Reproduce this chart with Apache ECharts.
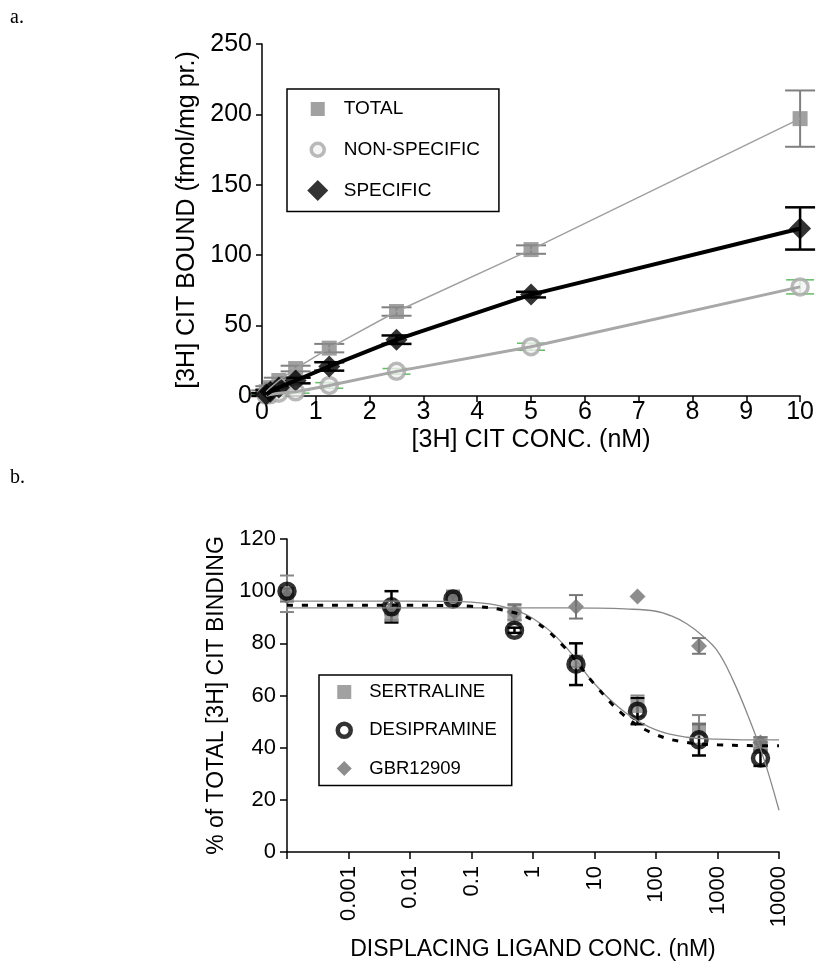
<!DOCTYPE html>
<html>
<head>
<meta charset="utf-8">
<script src="https://cdn.jsdelivr.net/npm/echarts@6/dist/echarts.min.js"></script>
<style>
  html, body { margin: 0; padding: 0; background: #fff; }
  #chart { width: 817px; height: 963px; }
</style>
</head>
<body>
<div id="chart"></div>
<script>
// panel a: saturation binding
const concA = [0.078, 0.156, 0.3125, 0.625, 1.25, 2.5, 5, 10]
const total = [3, 6, 11, 19.5, 34, 60, 104, 197]
const totalErr = [1, 1, 2, 2, 3, 3, 3, 20]
const nonSpecific = [0.5, 1, 2, 3, 7.5, 17.5, 35, 77.5]
const nonSpecificErr = [0.5, 0.5, 1, 1, 2, 2, 2.5, 5]
const specific = [1, 3, 6, 11, 21, 40, 72, 119]
const specificErr = [1, 1, 1, 2, 3, 3, 2, 15]

// panel b: displacement
const concB = [0.0001, 0.005, 0.05, 0.5, 5, 50, 500, 5000]
const sertraline = [99, 91, 98, 91, 73, 56, 47, 41]
const sertralineErr = [7, 2, 2, 3.5, 2, 4, 5.5, 3]
const desipramine = [100, 94, 97, 85, 72, 54, 43, 36]
const desipramineErr = [1, 6, 1, 1, 8, 5, 6, 3]
const gbr = [98, 93, 97, 92, 94, 98, 79, 42]
const gbrErr = [2, 2, 1, 3, 4.5, 0, 3, 2]

// fitted curves, every half decade
const fitX = [0.0001, 0.000316, 0.001, 0.00316, 0.01, 0.0316, 0.1, 0.316, 1, 3.16, 10, 31.6, 100, 316, 1000, 3162, 10000]
const sertralineFit = [96.2, 96.2, 96.2, 96.2, 96.2, 96.1, 95.8, 94.2, 89.5, 79.5, 64.5, 53.5, 46.8, 44, 43.3, 43, 43]
const desipramineFit = [94.6, 94.6, 94.6, 94.6, 94.6, 94.5, 94.2, 92.8, 88.8, 78.8, 64.3, 52, 45, 42, 41.1, 40.8, 40.7]
const gbrFitX = [0.0001, 0.001, 0.01, 0.1, 1, 10, 31.6, 100, 178, 316, 562, 1000, 1778, 3162, 5623, 10000]
const gbrFit = [93.6, 93.6, 93.6, 93.6, 93.6, 93.5, 93.2, 92.3, 90.5, 87.5, 83, 77, 66, 52, 36, 16]

const yTicksA = [0, 50, 100, 150, 200, 250]
const yTicksB = [0, 20, 40, 60, 80, 100, 120]

const SANS = 'Liberation Sans, Arial, Helvetica, sans-serif'

const pairs = (xs, ys) => xs.map((x, i) => [x, ys[i]])
const bars = (xs, ys, es) => xs.map((x, i) => [x, ys[i] - es[i], ys[i] + es[i]]).filter(d => d[2] > d[1])

function errorBars (data, axis, color, width, half) {
    return {
        type: 'custom',
        xAxisIndex: axis,
        yAxisIndex: axis,
        silent: true,
        data: data,
        encode: { x: 0, y: [1, 2] },
        renderItem (params, api) {
            let lo = api.coord([api.value(0), api.value(1)])
            let hi = api.coord([api.value(0), api.value(2)])
            let style = { stroke: color, lineWidth: width }
            return {
                type: 'group',
                children: [
                    { type: 'line', shape: { x1: lo[0], y1: lo[1], x2: hi[0], y2: hi[1] }, style },
                    { type: 'line', shape: { x1: lo[0] - half, y1: lo[1], x2: lo[0] + half, y2: lo[1] }, style },
                    { type: 'line', shape: { x1: hi[0] - half, y1: hi[1], x2: hi[0] + half, y2: hi[1] }, style }
                ]
            }
        }
    }
}

function line (data, axis, color, width, type, smooth) {
    return {
        type: 'line', xAxisIndex: axis, yAxisIndex: axis, data: data,
        showSymbol: false, smooth: smooth || false, silent: true,
        lineStyle: { color: color, width: width, type: type || 'solid' }
    }
}

function points (name, data, axis, symbol, size, itemStyle) {
    return {
        name: name, type: 'scatter', xAxisIndex: axis, yAxisIndex: axis, data: data,
        symbol: symbol, symbolSize: size, itemStyle: itemStyle, silent: true
    }
}

// legend icons: the leading moves pad the box so each shape keeps its own size
const iconSquare = (b, s) => `path://M0,0M${b},${b}M${(b - s) / 2},${(b - s) / 2}h${s}v${s}h${-s}Z`
const iconDiamond = (b, s) => `path://M0,0M${b},${b}M${b / 2},${(b - s) / 2}l${s / 2},${s / 2}l${-s / 2},${s / 2}l${-s / 2},${-s / 2}Z`
const iconCircle = (b, r) => `path://M0,0M${b},${b}M${b / 2 + r},${b / 2}A${r},${r},0,1,1,${b / 2 - r},${b / 2}A${r},${r},0,1,1,${b / 2 + r},${b / 2}Z`

const axisBase = {
    axisLine: { show: true, lineStyle: { color: '#000', width: 1.5 } },
    axisTick: { show: true, length: 6, lineStyle: { color: '#000', width: 1.5 } },
    splitLine: { show: false },
    nameLocation: 'middle'
}

const ringA = { color: '#f2f2f2', borderColor: '#a8a8a8', borderWidth: 3.5 }
const ringB = { color: 'rgba(0,0,0,0)', borderColor: '#000', borderWidth: 4.5 }

let chart = echarts.init(document.getElementById('chart'))

chart.setOption({
    animation: false,
    backgroundColor: '#fff',
    textStyle: { fontFamily: SANS },
    graphic: [
        { type: 'text', left: 10, top: 8, style: { text: 'a.', font: '20px "Liberation Serif", "Times New Roman", serif', fill: '#000' } },
        { type: 'text', left: 10, top: 468, style: { text: 'b.', font: '20px "Liberation Serif", "Times New Roman", serif', fill: '#000' } }
    ],
    grid: [
        { left: 262, top: 44, width: 542, height: 352 },
        { left: 287, top: 539, width: 492, height: 313 }
    ],
    legend: [
        {
            orient: 'vertical', left: 287, top: 89, selectedMode: false,
            itemWidth: 22, itemHeight: 22, itemGap: 17,
            padding: [9, 19, 10, 18],
            borderColor: '#000', borderWidth: 1.5,
            textStyle: { fontSize: 19, color: '#000', fontFamily: SANS, padding: [0, 0, 0, 10] },
            data: [
                { name: 'TOTAL', icon: iconSquare(22, 14) },
                { name: 'NON-SPECIFIC', icon: iconCircle(22, 6.5), itemStyle: ringA },
                { name: 'SPECIFIC', icon: iconDiamond(22, 21) }
            ]
        },
        {
            orient: 'vertical', left: 319, top: 675, selectedMode: false,
            itemWidth: 20, itemHeight: 20, itemGap: 16,
            padding: [7, 15, 7, 13],
            borderColor: '#000', borderWidth: 1.5,
            textStyle: { fontSize: 18.5, color: '#000', fontFamily: SANS, padding: [0, 0, 0, 10] },
            data: [
                { name: 'SERTRALINE', icon: iconSquare(20, 14) },
                { name: 'DESIPRAMINE', icon: iconCircle(20, 6.5), itemStyle: ringB },
                { name: 'GBR12909', icon: iconDiamond(20, 15) }
            ]
        }
    ],
    xAxis: [
        Object.assign({}, axisBase, {
            gridIndex: 0, type: 'value', min: 0, max: 10, interval: 1,
            axisLabel: { fontSize: 25, color: '#000', margin: 4 },
            name: '[3H] CIT CONC. (nM)', nameGap: 32,
            nameTextStyle: { fontSize: 25, color: '#000' }
        }),
        Object.assign({}, axisBase, {
            gridIndex: 1, type: 'log', logBase: 10, min: 0.0001, max: 10000, splitNumber: 8,
            axisTick: { show: true, length: 7, lineStyle: { color: '#000', width: 1.5 } },
            minorTick: { show: false },
            axisLabel: {
                fontSize: 22, color: '#000', margin: 14, rotate: 90,
                formatter: v => {
                    let e = Math.round(Math.log10(v))
                    if (e <= -4) return ''
                    return e < 0 ? Math.pow(10, e).toFixed(-e) : String(Math.pow(10, e))
                }
            },
            name: 'DISPLACING LIGAND CONC. (nM)', nameGap: 86,
            nameTextStyle: { fontSize: 23, color: '#000' }
        })
    ],
    yAxis: [
        Object.assign({}, axisBase, {
            gridIndex: 0, type: 'value', min: yTicksA[0], max: yTicksA[yTicksA.length - 1], interval: 50,
            axisLabel: { fontSize: 25, color: '#000', margin: 10, showMinLabel: true, showMaxLabel: true },
            name: '[3H] CIT BOUND (fmol/mg pr.)', nameGap: 57,
            nameTextStyle: { fontSize: 25, color: '#000' }
        }),
        Object.assign({}, axisBase, {
            gridIndex: 1, type: 'value', min: yTicksB[0], max: yTicksB[yTicksB.length - 1], interval: 20,
            axisTick: { show: true, length: 7, lineStyle: { color: '#000', width: 1.5 } },
            axisLabel: { fontSize: 22, color: '#000', margin: 11, showMinLabel: true, showMaxLabel: true },
            name: '% of TOTAL [3H] CIT BINDING', nameGap: 55,
            nameTextStyle: { fontSize: 23, color: '#000' }
        })
    ],
    series: [
        // panel a
        line(pairs(concA, total), 0, '#a0a0a0', 1.5),
        line(pairs(concA, nonSpecific), 0, '#a8a8a8', 3),
        line(pairs(concA, specific), 0, '#000', 4),
        errorBars(bars(concA, total, totalErr), 0, '#808080', 2, 15),
        errorBars(bars(concA, nonSpecific, nonSpecificErr), 0, '#66bb66', 1.5, 14),
        errorBars(bars(concA, specific, specificErr), 0, '#000', 2.5, 15),
        points('TOTAL', pairs(concA, total), 0, 'rect', 15, { color: '#8a8a8a' }),
        points('NON-SPECIFIC', pairs(concA, nonSpecific), 0, 'circle', 16, ringA),
        points('SPECIFIC', pairs(concA, specific), 0, 'diamond', 22, { color: '#000' }),

        // panel b
        line(pairs(fitX, sertralineFit), 1, '#888', 1.3, 'solid', 0.4),
        line(pairs(gbrFitX, gbrFit), 1, '#888', 1.3, 'solid', 0.4),
        line(pairs(fitX, desipramineFit), 1, '#000', 3, [6, 9], 0.4),
        errorBars(bars(concB, sertraline, sertralineErr), 1, '#888', 2, 7),
        errorBars(bars(concB, gbr, gbrErr), 1, '#777', 2, 7),
        errorBars(bars(concB, desipramine, desipramineErr), 1, '#000', 2.5, 7),
        points('SERTRALINE', pairs(concB, sertraline), 1, 'rect', 14, { color: '#8a8a8a' }),
        points('GBR12909', pairs(concB, gbr), 1, 'diamond', 16, { color: '#707070' }),
        points('DESIPRAMINE', pairs(concB, desipramine), 1, 'circle', 15, ringB)
    ]
})
</script>
</body>
</html>
